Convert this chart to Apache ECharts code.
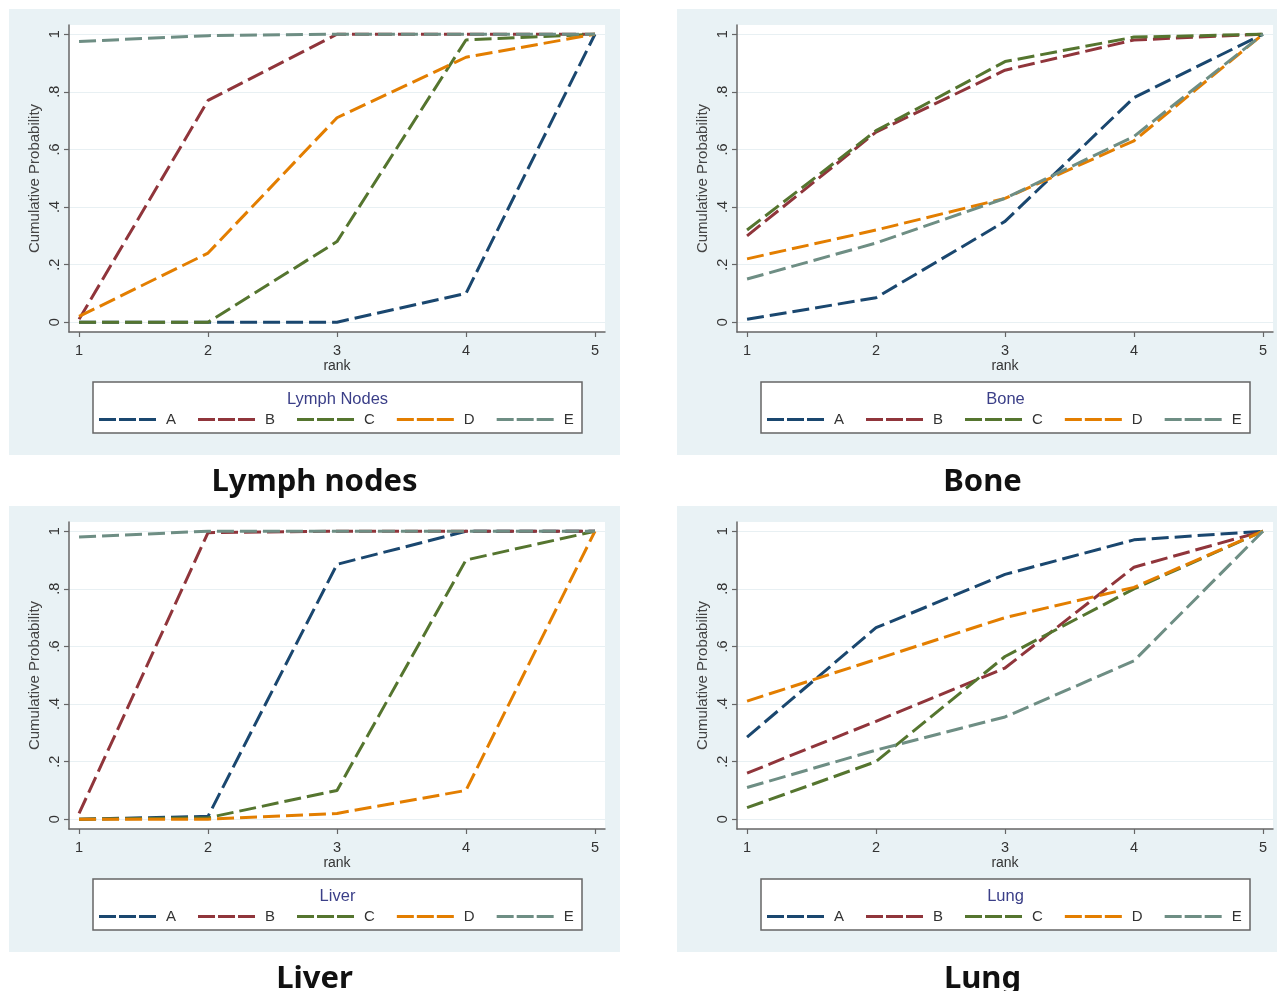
<!DOCTYPE html>
<html>
<head>
<meta charset="utf-8">
<script src="https://cdn.jsdelivr.net/npm/echarts@6/dist/echarts.min.js"></script>
<style>
  html, body { margin: 0; padding: 0; background: #fff; }
  #chart { width: 1277px; height: 991px; }
</style>
</head>
<body>
<div id="chart"></div>
<script>
// ---- data ----
const ranks = [1, 2, 3, 4, 5];
const methods = ["A", "B", "C", "D", "E"];
const yTicks = [0, 0.2, 0.4, 0.6, 0.8, 1];

// cumulative probability per method (rows A..E), per rank 1..5
const lymphNodes = [
  [0, 0, 0, 0.10, 1],
  [0.01, 0.77, 1, 1, 1],
  [0, 0, 0.28, 0.98, 1],
  [0.02, 0.24, 0.71, 0.92, 1],
  [0.975, 0.995, 1, 1, 1]
];
const bone = [
  [0.01, 0.085, 0.35, 0.78, 1],
  [0.30, 0.66, 0.875, 0.98, 1],
  [0.32, 0.665, 0.905, 0.99, 1],
  [0.22, 0.32, 0.43, 0.63, 1],
  [0.15, 0.275, 0.43, 0.645, 1]
];
const liver = [
  [0, 0.01, 0.885, 1, 1],
  [0.02, 0.995, 1, 1, 1],
  [0, 0.005, 0.10, 0.90, 1],
  [0, 0, 0.02, 0.10, 1],
  [0.98, 1, 1, 1, 1]
];
const lung = [
  [0.285, 0.665, 0.85, 0.97, 1],
  [0.16, 0.34, 0.525, 0.875, 1],
  [0.04, 0.20, 0.565, 0.80, 1],
  [0.41, 0.555, 0.70, 0.805, 1],
  [0.11, 0.24, 0.355, 0.55, 1]
];

const panelData = [lymphNodes, bone, liver, lung];
const legendTitles = ["Lymph Nodes", "Bone", "Liver", "Lung"];
const captions = ["Lymph nodes", "Bone", "Liver", "Lung"];

// ---- styling ----
const colors = ["#1a476f", "#90353b", "#55752f", "#e37e00", "#6e8e84"];
const FONT = "Liberation Sans, Arial, sans-serif";
const AXIS_COLOR = "#666";
const dashIcon = "path://M0,0H17V3H0Z M20,0H37V3H20Z M40,0H57V3H40Z";

// panel offsets (col, row)
const DX = 668, DY = 497;
const panelPos = [[0, 0], [1, 0], [0, 1], [1, 1]];

const fmtProb = (v) => {
  if (v === 0) return "0";
  if (v === 1) return "1";
  return String(+v.toFixed(1)).replace(/^0/, "");
};

const chart = echarts.init(document.getElementById("chart"), null, { renderer: "canvas" });

const grid = [], xAxis = [], yAxis = [], series = [], legend = [], graphic = [];

panelPos.forEach(([col, row], i) => {
  const dx = col * DX, dy = row * DY;

  grid.push({
    left: 69 + dx, top: 25 + dy, width: 536, height: 307,
    show: true, backgroundColor: "#fff", borderWidth: 0
  });

  xAxis.push({
    gridIndex: i, type: "value", min: 0.922, max: 5.078,
    name: "rank", nameLocation: "middle", nameGap: 27,
    nameTextStyle: { fontFamily: FONT, fontSize: 14, color: "#333" },
    axisLine: { onZero: false, lineStyle: { color: AXIS_COLOR, width: 1.5 } },
    axisTick: { customValues: ranks, length: 5, lineStyle: { color: AXIS_COLOR, width: 1.2 } },
    axisLabel: { customValues: ranks, margin: 11, fontFamily: FONT, fontSize: 14.5, color: "#333" },
    splitLine: { show: false }
  });

  yAxis.push({
    gridIndex: i, type: "value", min: -0.034, max: 1.032,
    name: "Cumulative Probability", nameLocation: "middle", nameRotate: 90, nameGap: 27,
    nameTextStyle: { fontFamily: FONT, fontSize: 15, color: "#444" },
    axisLine: { show: true, onZero: false, lineStyle: { color: AXIS_COLOR, width: 1.5 } },
    axisTick: { show: true, customValues: yTicks, length: 5, lineStyle: { color: AXIS_COLOR, width: 1.2 } },
    axisLabel: {
      customValues: yTicks, rotate: 90, margin: 7,
      fontFamily: FONT, fontSize: 14.5, color: "#333", formatter: fmtProb
    },
    splitLine: { show: true, lineStyle: { color: "#e8f0f3", width: 1 } }
  });

  panelData[i].forEach((vals, k) => {
    series.push({
      name: methods[k], type: "line",
      xAxisIndex: i, yAxisIndex: i,
      data: ranks.map((r, j) => [r, vals[j]]),
      symbol: "none", silent: true,
      color: colors[k],
      lineStyle: { color: colors[k], width: 3, type: [17, 6] }
    });
  });

  legend.push({
    data: methods, left: 99 + dx, top: 412 + dy, padding: 0,
    orient: "horizontal", icon: dashIcon,
    itemWidth: 57, itemHeight: 3, itemGap: 22,
    itemStyle: { borderWidth: 0 },
    selectedMode: false,
    textStyle: { fontFamily: FONT, fontSize: 15, color: "#333", padding: [0, 0, 0, 5] }
  });

  // outer (graph region) background and legend box
  graphic.push({
    type: "rect", z: -2, silent: true,
    shape: { x: 9 + dx, y: 9 + dy, width: 611, height: 446 },
    style: { fill: "#e9f2f5" }
  });
  graphic.push({
    type: "rect", z: -1, silent: true,
    shape: { x: 93 + dx, y: 382 + dy, width: 489, height: 51 },
    style: { fill: "#fff", stroke: "#666", lineWidth: 1.5 }
  });
  graphic.push({
    type: "text", silent: true, x: 337.5 + dx, y: 399 + dy,
    style: {
      text: legendTitles[i], fill: "#3b3f88",
      font: "16.5px " + FONT, textAlign: "center", textVerticalAlign: "middle"
    }
  });
  graphic.push({
    type: "text", silent: true, x: 314.5 + dx, y: 482 + dy,
    style: {
      text: captions[i], fill: "#111",
      font: "bold 31px 'Noto Sans', 'Open Sans', sans-serif",
      textAlign: "center", textVerticalAlign: "middle"
    }
  });
});

chart.setOption({
  animation: false,
  backgroundColor: "#fff",
  grid, xAxis, yAxis, series, legend, graphic
});
</script>
</body>
</html>
